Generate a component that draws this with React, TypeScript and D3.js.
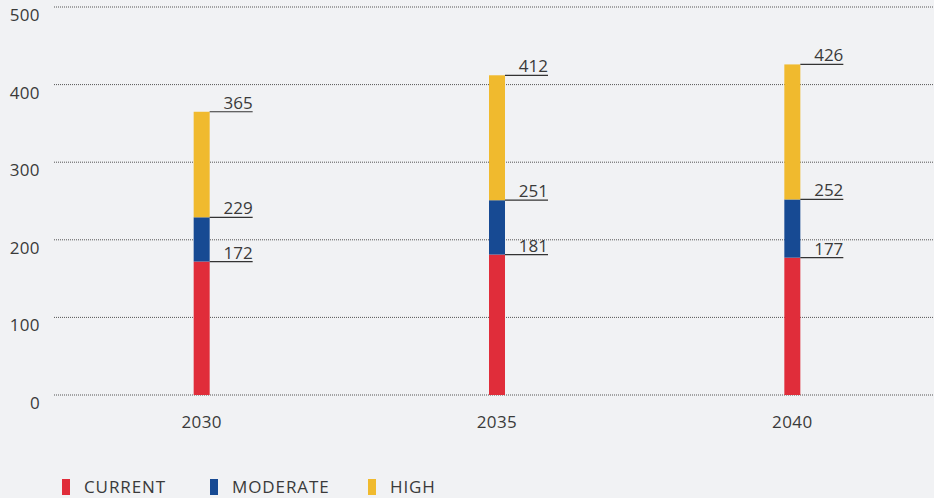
import * as d3 from "d3";

const years = ["2030", "2035", "2040"];
// cumulative levels as labelled on the bars
const currentTop = [172, 181, 177];
const moderateTop = [229, 251, 252];
const highTop = [365, 412, 426];
const yTicks = [0, 100, 200, 300, 400, 500];
const seriesNames = ["CURRENT", "MODERATE", "HIGH"];
const seriesColors = ["#e02d3a", "#174a93", "#f0ba2e"];

const W = 934;
const H = 498;
const FONT = "'Open Sans', sans-serif";

export default function App() {
  const x = d3.scaleBand().domain(years).range([54, 940]);
  const y = d3.scaleLinear().domain([0, 500]).range([395, 7]);
  const barW = 16;

  const levels = [currentTop, moderateTop, highTop];

  return (
    <svg
      width={W}
      height={H}
      style={{ position: "absolute", left: 0, top: 0, background: "#f1f2f4" }}
      fontFamily={FONT}
    >
      {yTicks.map((t) => (
        <g key={t}>
          <line
            x1={54}
            x2={W}
            y1={y(t)}
            y2={y(t)}
            stroke="#555"
            strokeWidth={1}
            strokeDasharray="1,1"
          />
          <text x={40} y={y(t) + 14} textAnchor="end" fontSize={17} fill="#3a3a3a" letterSpacing={0.4}>
            {t}
          </text>
        </g>
      ))}

      {years.map((yr, i) => {
        const cx = (x(yr) ?? 0) + x.bandwidth() / 2;
        const left = cx - barW / 2;
        return (
          <g key={yr}>
            {levels.map((lv, s) => {
              const lo = s === 0 ? 0 : levels[s - 1][i];
              const hi = lv[i];
              return (
                <rect
                  key={s}
                  x={left}
                  y={y(hi)}
                  width={barW}
                  height={y(lo) - y(hi)}
                  fill={seriesColors[s]}
                />
              );
            })}
            {levels.map((lv, s) => (
              <g key={"l" + s}>
                <line
                  x1={left + barW}
                  x2={left + barW + 43}
                  y1={y(lv[i])}
                  y2={y(lv[i])}
                  stroke="#333"
                  strokeWidth={1.2}
                />
                <text
                  x={left + barW + 43}
                  y={y(lv[i]) - 3}
                  textAnchor="end"
                  fontSize={17}
                  fill="#3a3a3a"
                >
                  {lv[i]}
                </text>
              </g>
            ))}
            <text x={cx} y={428} textAnchor="middle" fontSize={17} fill="#3a3a3a" letterSpacing={0.4}>
              {yr}
            </text>
          </g>
        );
      })}

      {seriesNames.map((n, s) => {
        const lx = [62, 210, 368][s];
        return (
          <g key={n}>
            <rect x={lx} y={479} width={8} height={16} fill={seriesColors[s]} />
            <text x={lx + 22} y={493} fontSize={17} fill="#3a3a3a" letterSpacing={0.9}>
              {n}
            </text>
          </g>
        );
      })}
    </svg>
  );
}
